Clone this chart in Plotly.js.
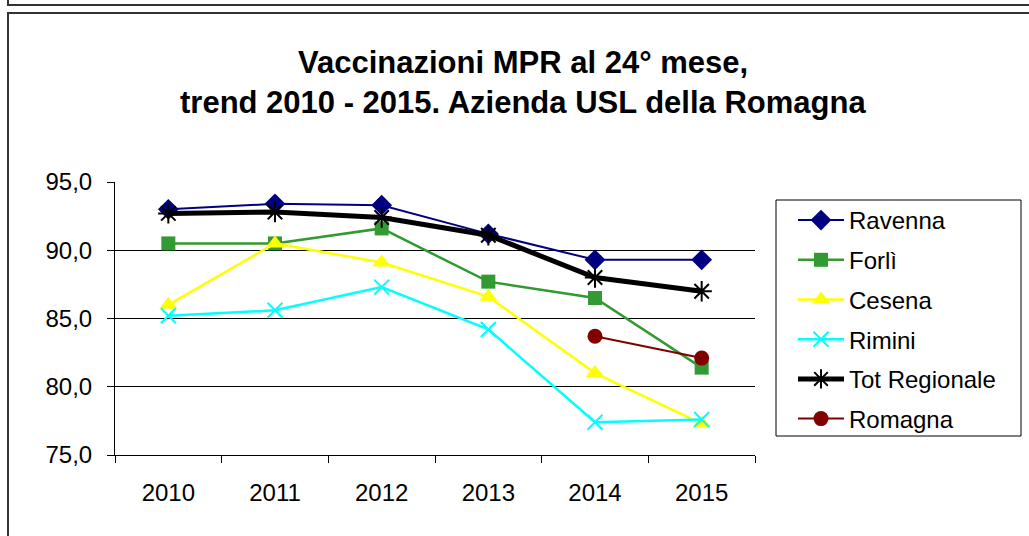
<!DOCTYPE html>
<html>
<head>
<meta charset="utf-8">
<script src="https://cdn.plot.ly/plotly-3.0.1.min.js"></script>
<style>
  html, body { margin: 0; padding: 0; background: #fff; }
  #wrap { position: relative; width: 1029px; height: 536px; overflow: hidden; }
  #chart { position: absolute; left: 0; top: 0; width: 1029px; height: 536px; }
  .ln { position: absolute; background: #333; pointer-events: none; }
</style>
</head>
<body>
<div id="wrap">
  <div id="chart"></div>
  <div class="ln" style="left:7px; top:0; width:2px; height:6px;"></div>
  <div class="ln" style="left:7px; top:4px; width:1022px; height:2px;"></div>
  <div class="ln" style="left:7px; top:12px; width:1022px; height:2px;"></div>
  <div class="ln" style="left:7px; top:12px; width:2px; height:524px;"></div>
</div>
<script>
const years = ["2010", "2011", "2012", "2013", "2014", "2015"];
const ravenna = [93.0, 93.4, 93.3, 91.2, 89.3, 89.3];
const forli = [90.5, 90.5, 91.6, 87.7, 86.5, 81.4];
const cesena = [86.0, 90.5, 89.1, 86.6, 81.0, 77.3];
const rimini = [85.2, 85.6, 87.3, 84.2, 77.4, 77.6];
const totRegionale = [92.7, 92.8, 92.4, 91.1, 88.0, 87.0];
const romagna = [null, null, null, null, 83.7, 82.1];
const yTicks = [75, 80, 85, 90, 95];

const traces = [
  {name: "Ravenna", y: ravenna, line: {color: "#000080", width: 2},
   marker: {symbol: "diamond", size: 16, color: "#000080"}},
  {name: "Forlì", y: forli, line: {color: "#339933", width: 2.5},
   marker: {symbol: "square", size: 14, color: "#339933"}},
  {name: "Cesena", y: cesena, line: {color: "#FFFF00", width: 2.5},
   marker: {symbol: "triangle-up", size: 16, color: "#FFFF00"}},
  {name: "Rimini", y: rimini, line: {color: "#00FFFF", width: 2.5},
   marker: {symbol: "x-thin-open", size: 15, color: "#00FFFF", line: {color: "#00FFFF", width: 2}}},
  {name: "Tot Regionale", y: totRegionale, line: {color: "#000000", width: 5},
   marker: {symbol: "asterisk-open", size: 17, color: "#000000", line: {color: "#000000", width: 2}}},
  {name: "Romagna", y: romagna, line: {color: "#800000", width: 2},
   marker: {symbol: "circle", size: 15, color: "#800000"}}
].map((t, i) => Object.assign({
  type: "scatter", mode: "lines+markers", x: years, connectgaps: false,
  legendgroup: "g" + i, hoverinfo: "skip"
}, t));

const font = "Liberation Sans, Arial, sans-serif";

const layout = {
  width: 1029, height: 536,
  margin: {l: 115, r: 274, t: 182, b: 81, pad: 0},
  paper_bgcolor: "rgba(0,0,0,0)", plot_bgcolor: "#ffffff",
  separators: ",.",
  font: {family: font, color: "#000"},
  showlegend: true,
  legend: {
    x: (793 - 115) / 640, y: (455 - 198) / 273, xanchor: "left", yanchor: "top",
    borderwidth: 0, bgcolor: "rgba(0,0,0,0)",
    font: {family: font, size: 24, color: "#000"},
    tracegroupgap: 5.5, traceorder: "grouped", itemwidth: 46
  },
  shapes: [
    {type: "rect", xref: "paper", yref: "paper",
     x0: (776 - 115) / 640, x1: (1021 - 115) / 640,
     y0: (455 - 436) / 273, y1: (455 - 200) / 273,
     line: {color: "#000", width: 1}, fillcolor: "#fff", layer: "below"}
  ],
  xaxis: {
    type: "category", range: [-0.5, 5.5], tickson: "boundaries",
    ticks: "outside", ticklen: 7, tickcolor: "#000", tickwidth: 1,
    showline: true, linecolor: "#000", linewidth: 1,
    showgrid: false, zeroline: false,
    tickfont: {family: font, size: 24, color: "#000"},
    ticklabelstandoff: 16, fixedrange: true
  },
  yaxis: {
    range: [75, 95], tickvals: yTicks, tickformat: ".1f",
    ticks: "outside", ticklen: 7, tickcolor: "#000", tickwidth: 1,
    showline: true, linecolor: "#000", linewidth: 1,
    showgrid: true, gridcolor: "#000", gridwidth: 1, zeroline: false,
    tickfont: {family: font, size: 24, color: "#000"},
    ticklabelstandoff: 10, fixedrange: true
  },
  annotations: [
    {text: "<b>Vaccinazioni MPR al 24° mese,</b>", xref: "paper", yref: "paper",
     x: (523 - 115) / 640, y: (455 - 62) / 273, xanchor: "center", yanchor: "middle",
     showarrow: false, font: {family: font, size: 31, color: "#000"}},
    {text: "<b>trend 2010 - 2015. Azienda USL della Romagna</b>", xref: "paper", yref: "paper",
     x: (523 - 115) / 640, y: (455 - 103) / 273, xanchor: "center", yanchor: "middle",
     showarrow: false, font: {family: font, size: 31, color: "#000"}}
  ]
};

Plotly.newPlot("chart", traces, layout, {displayModeBar: false, staticPlot: true});
</script>
</body>
</html>
